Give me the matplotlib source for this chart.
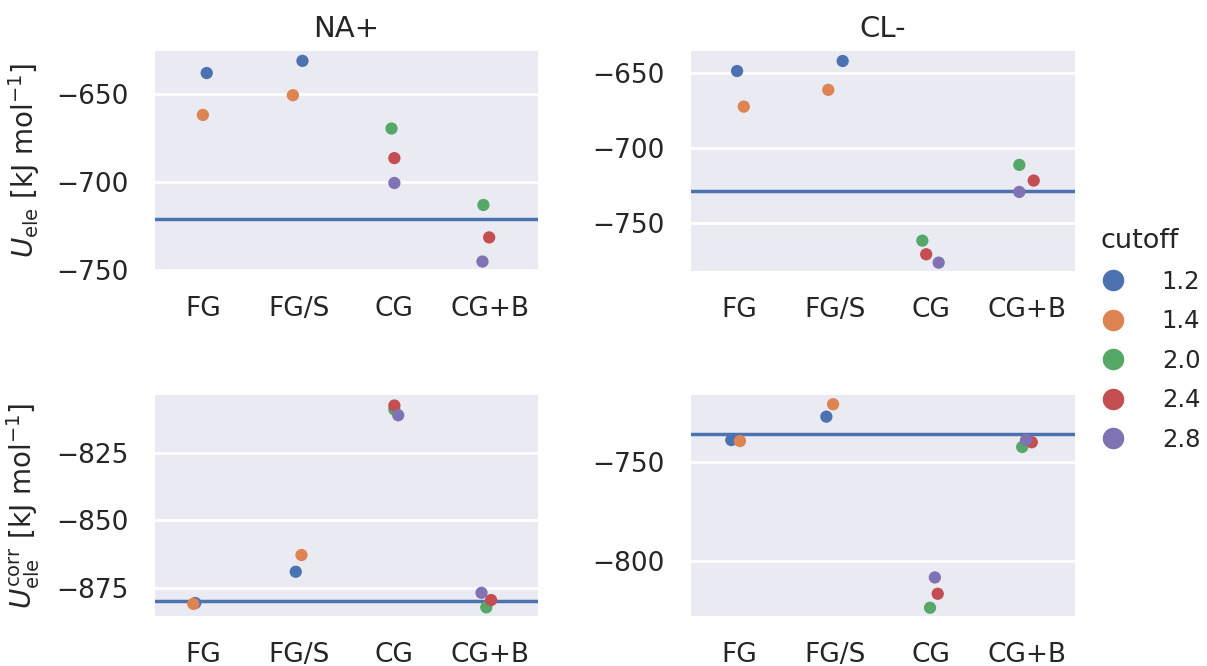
import numpy as np
import matplotlib
matplotlib.use("Agg")
import matplotlib.pyplot as plt
import seaborn as sns
from matplotlib.lines import Line2D

sns.set_theme(style="darkgrid", palette="deep")

methods = ["FG", "FG/S", "CG", "CG+B"]
cutoffs = ["1.2", "1.4", "2.0", "2.4", "2.8"]
ions = ["NA+", "CL-"]

# energies per (method, cutoff), None = not computed
u_ele = {
    "NA+": {
        "FG":   [-638.2, -662.0, None, None, None],
        "FG/S": [-631.3, -650.8, None, None, None],
        "CG":   [None, None, -669.7, -686.5, -700.6],
        "CG+B": [None, None, -713.1, -731.5, -745.2],
    },
    "CL-": {
        "FG":   [-648.5, -672.3, None, None, None],
        "FG/S": [-641.8, -661.1, None, None, None],
        "CG":   [None, None, -762.0, -771.1, -776.7],
        "CG+B": [None, None, -711.3, -721.8, -729.4],
    },
}
u_corr = {
    "NA+": {
        "FG":   [-880.7, -881.0, None, None, None],
        "FG/S": [-869.1, -862.9, None, None, None],
        "CG":   [None, None, -809.0, -807.5, -811.1],
        "CG+B": [None, None, -882.3, -879.6, -876.9],
    },
    "CL-": {
        "FG":   [-738.7, -739.2, None, None, None],
        "FG/S": [-726.8, -720.5, None, None, None],
        "CG":   [None, None, -823.9, -816.8, -808.5],
        "CG+B": [None, None, -742.2, -739.8, -738.7],
    },
}
# strip jitter as it came out in the original plot
jitter_ele = {
    "NA+": {"FG": [0.04, 0.0, 0, 0, 0], "FG/S": [0.04, -0.06, 0, 0, 0],
            "CG": [0, 0, -0.03, 0.0, 0.0], "CG+B": [0, 0, -0.07, -0.01, -0.08]},
    "CL-": {"FG": [-0.02, 0.05, 0, 0, 0], "FG/S": [0.08, -0.07, 0, 0, 0],
            "CG": [0, 0, -0.09, -0.05, 0.08], "CG+B": [0, 0, -0.08, 0.07, -0.08]},
}
jitter_corr = {
    "NA+": {"FG": [-0.08, -0.1, 0, 0, 0], "FG/S": [-0.03, 0.03, 0, 0, 0],
            "CG": [0, 0, 0.0, 0.0, 0.04], "CG+B": [0, 0, -0.04, 0.01, -0.09]},
    "CL-": {"FG": [-0.08, 0.01, 0, 0, 0], "FG/S": [-0.09, -0.02, 0, 0, 0],
            "CG": [0, 0, -0.01, 0.07, 0.04], "CG+B": [0, 0, -0.05, 0.05, -0.01]},
}
# reference values (horizontal lines)
ref_ele = {"NA+": -721.0, "CL-": -728.9}
ref_corr = {"NA+": -880.0, "CL-": -735.8}

ylims_ele = {"NA+": (-748.7, -625.7), "CL-": (-782.3, -635.1)}
ylims_corr = {"NA+": (-885.5, -803.6), "CL-": (-828.1, -715.8)}
yticks_ele = {"NA+": [-650, -700, -750], "CL-": [-650, -700, -750]}
yticks_corr = {"NA+": [-825, -850, -875], "CL-": [-750, -800]}

colors = sns.color_palette("deep")

W, H = 1207, 666
fig = plt.figure(figsize=(W / 100, H / 100), dpi=100)


def px_axes(x0, y0, x1, y1):
    return fig.add_axes([x0 / W, 1 - y1 / H, (x1 - x0) / W, (y1 - y0) / H])


boxes = {
    ("ele", "NA+"): (155, 51, 538, 270),
    ("ele", "CL-"): (691, 51, 1075, 271),
    ("corr", "NA+"): (155, 395, 538, 616),
    ("corr", "CL-"): (691, 395, 1075, 616),
}

for row, (vals, jit, refs, lims, ticks) in {
    "ele": (u_ele, jitter_ele, ref_ele, ylims_ele, yticks_ele),
    "corr": (u_corr, jitter_corr, ref_corr, ylims_corr, yticks_corr),
}.items():
    for ion in ions:
        ax = px_axes(*boxes[(row, ion)])
        for i, m in enumerate(methods):
            for k, c in enumerate(cutoffs):
                v = vals[ion][m][k]
                if v is None:
                    continue
                ax.scatter(i + jit[ion][m][k], v, s=78, color=colors[k],
                           edgecolor="none", zorder=3)
        ax.axhline(refs[ion], color=colors[0], lw=2.5, zorder=2)
        ax.set_xlim(-0.5, 3.5)
        ax.set_ylim(*lims[ion])
        ax.set_yticks(ticks[ion])
        ax.set_xticks(range(len(methods)))
        ax.set_xticklabels(methods)
        ax.grid(axis="x", visible=False)
        ax.grid(axis="y", color="white", lw=2.0)
        ax.tick_params(axis="x", labelsize=19, pad=19, length=0)
        ax.tick_params(axis="y", labelsize=19, pad=19, length=0)
        for sp in ax.spines.values():
            sp.set_visible(False)
        if row == "ele":
            ax.set_title(ion, fontsize=21, pad=10)
        if ion == "NA+":
            if row == "ele":
                ax.set_ylabel(r"$U_{\rm ele}$ [kJ mol$^{-1}$]", fontsize=20)
            else:
                ax.set_ylabel(r"$U^{\rm corr}_{\rm ele}$ [kJ mol$^{-1}$]", fontsize=20)
            ax.yaxis.set_label_coords(-0.294, 0.5)

handles = [Line2D([], [], marker="o", ls="", markersize=15.5, color=colors[k],
                  markeredgecolor="none") for k in range(len(cutoffs))]
fig.legend(handles, cutoffs, title="cutoff", loc="upper left",
           bbox_to_anchor=(1101 / W, 1 - 228 / H), frameon=False,
           borderaxespad=0, borderpad=0, handlelength=1.0,
           fontsize=17.5, title_fontsize=19.5, handletextpad=1.5,
           labelspacing=0.64, alignment="left")

fig.savefig("out.png", dpi=100)
